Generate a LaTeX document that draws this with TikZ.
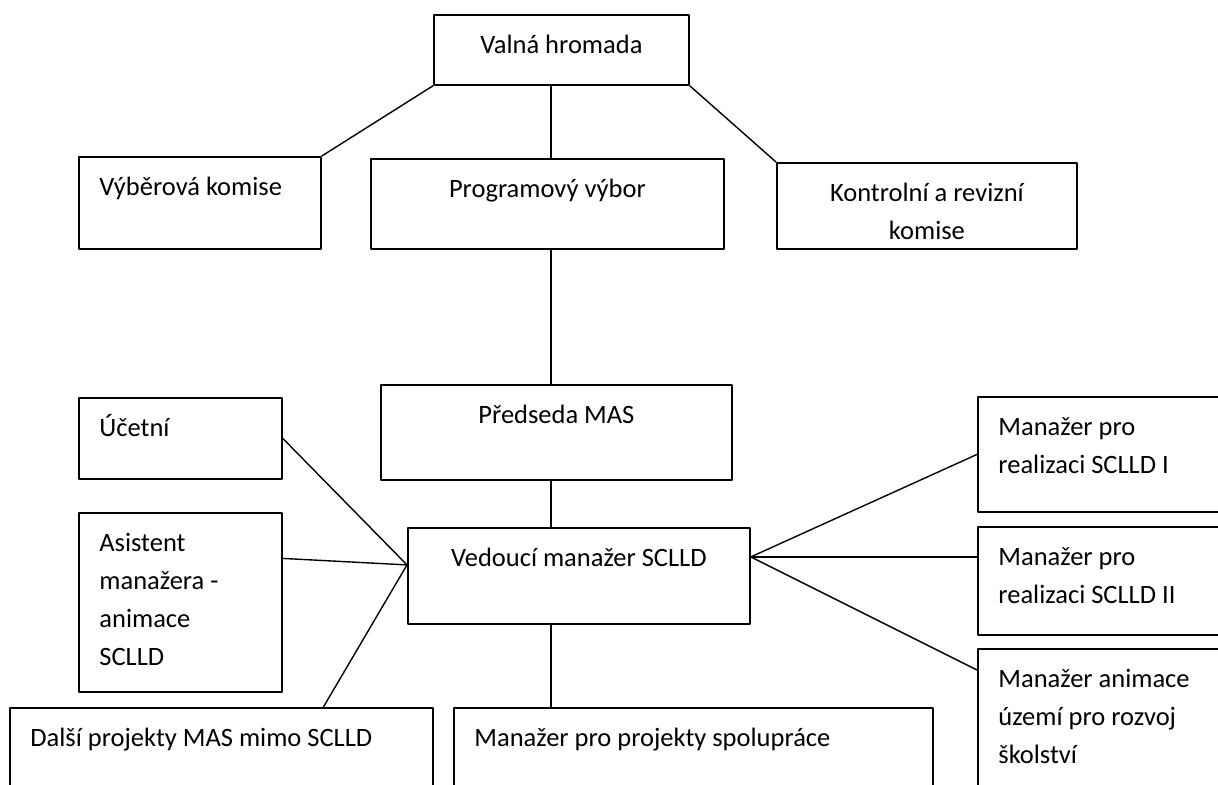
\documentclass[tikz,border=0pt]{standalone}
\usepackage{fontspec}
\setmainfont{Carlito}
\usetikzlibrary{positioning}
\begin{document}
\begin{tikzpicture}[x=0.5pt, y=-0.5pt, font=\fontsize{13.25}{19}\selectfont, line join=round, line cap=round,
  box/.style={draw, rectangle, line width=0.9pt, inner sep=0pt, anchor=north west},
  txt/.style={inner sep=0pt, align=left, anchor=base west},
  ctxt/.style={inner sep=0pt, align=center, anchor=base},
  link/.style={line width=0.7pt}]
\def \W{1218}
\def \H{784}
\def \padx{10.5pt}
\def \basey{19.5pt}
\def \baseb{38.5pt}
\def \basec{57.5pt}
\def \based{76.5pt}
\useasboundingbox (0,0) rectangle (\W,\H);
\clip (0,0) rectangle (\W,\H);
\coordinate (trunk) at (551,0);
% boxes
\node[box, minimum width=127.5pt, minimum height=35pt] (valna) at (433,14) {};
\node[box, minimum width=121pt, minimum height=46pt] (vyber) at (78,156) {};
\node[box, minimum width=176.5pt, minimum height=45pt] (program) at (370,158) {};
\node[box, minimum width=150pt, minimum height=43pt] (kontrol) at (776,162) {};
\node[box, minimum width=175.5pt, minimum height=47.5pt] (predseda) at (380,384) {};
\node[box, minimum width=101.5pt, minimum height=40.5pt] (ucetni) at (78,397) {};
\node[box, minimum width=101.5pt, minimum height=89.5pt] (asist) at (78,512) {};
\node[box, minimum width=171pt, minimum height=48pt] (vedouci) at (407,527) {};
\node[box, minimum width=131.5pt, minimum height=57.5pt] (realI) at (977,396) {};
\node[box, minimum width=131.5pt, minimum height=54pt] (realII) at (977,526) {};
\node[box, minimum width=131.5pt, minimum height=76pt] (skol) at (977,648) {};
\node[box, minimum width=211.5pt, minimum height=46.5pt] (dalsi) at (9,707) {};
\node[box, minimum width=239.5pt, minimum height=46.5pt] (spoluprace) at (453,707) {};
% texts (base = last line)
\node[ctxt] (valnaT) at ([yshift=-\basey]valna.north) {Valná hromada};
\node[txt] (vyberT) at ([xshift=\padx, yshift=-\basey]vyber.north west) {Výběrová komise};
\node[ctxt] (programT) at ([yshift=-\basey]program.north) {Programový výbor};
\node[ctxt] (kontrolT) at ([yshift=-\baseb]kontrol.north) {Kontrolní a revizní\\komise};
\node[ctxt] (predsedaT) at ([yshift=-\basey]predseda.north) {Předseda MAS};
\node[txt] (ucetniT) at ([xshift=\padx, yshift=-\basey]ucetni.north west) {Účetní};
\node[txt] (asistT) at ([xshift=\padx, yshift=-\based]asist.north west) {Asistent\\manažera -\\animace\\SCLLD};
\node[ctxt] (vedouciT) at ([yshift=-\basey]vedouci.north) {Vedoucí manažer SCLLD};
\node[txt] (realIT) at ([xshift=\padx, yshift=-\baseb]realI.north west) {Manažer pro\\realizaci SCLLD I};
\node[txt] (realIIT) at ([xshift=\padx, yshift=-\baseb]realII.north west) {Manažer pro\\realizaci SCLLD II};
\node[txt] (skolT) at ([xshift=\padx, yshift=-\basec]skol.north west) {Manažer animace\\území pro rozvoj\\školství};
\node[txt] (dalsiT) at ([xshift=\padx, yshift=-\basey]dalsi.north west) {Další projekty MAS mimo SCLLD};
\node[txt] (spolupraceT) at ([xshift=\padx, yshift=-\basey]spoluprace.north west) {Manažer pro projekty spolupráce};
% connectors
\draw[link] (valna.south west) -- (vyber.north east);
\draw[link] (valna.south east) -- (kontrol.north west);
\draw[link] (valna.south -| trunk) -- (program.north -| trunk);
\draw[link] (program.south -| trunk) -- (predseda.north -| trunk);
\draw[link] (predseda.south -| trunk) -- (vedouci.north -| trunk);
\draw[link] (vedouci.south -| trunk) -- (spoluprace.north -| trunk);
\coordinate (vl) at ([yshift=5.5pt]vedouci.west);
\draw[link] (ucetni.east) -- (vl);
\draw[link] ([yshift=22pt]asist.east) -- (vl);
\draw[link] ([xshift=51pt]dalsi.north) -- (vl);
\coordinate (vr) at ([yshift=9.5pt]vedouci.east);
\draw[link] (vr) -- (realI.west);
\draw[link] (vr) -- ([yshift=12pt]realII.west);
\draw[link] (vr) -- ([yshift=-11pt]skol.north west);
\end{tikzpicture}
\end{document}
